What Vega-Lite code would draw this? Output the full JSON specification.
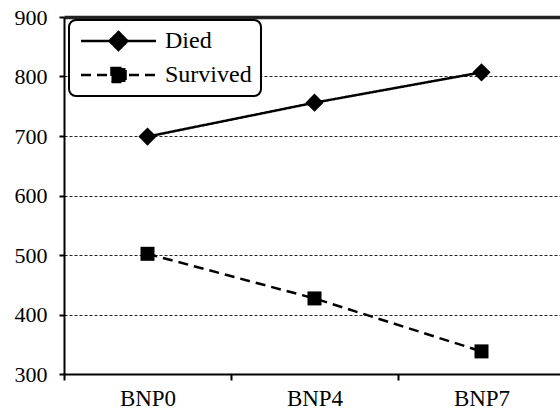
{
  "$schema": "https://vega.github.io/schema/vega-lite/v6.json",
  "width": 496,
  "height": 357,
  "autosize": {"type": "none"},
  "padding": {"left": 64, "top": 17, "right": 0, "bottom": 37},
  "background": "white",
  "config": {"view": {"stroke": null}, "font": "Liberation Serif"},
  "data": {
    "values": [
      {"group": "BNP0", "outcome": "Died", "value": 699},
      {"group": "BNP4", "outcome": "Died", "value": 756},
      {"group": "BNP7", "outcome": "Died", "value": 807},
      {"group": "BNP0", "outcome": "Survived", "value": 502},
      {"group": "BNP4", "outcome": "Survived", "value": 427},
      {"group": "BNP7", "outcome": "Survived", "value": 338}
    ]
  },
  "encoding": {
    "x": {
      "field": "group",
      "type": "nominal",
      "sort": ["BNP0", "BNP4", "BNP7"],
      "scale": {"type": "band", "paddingInner": 0, "paddingOuter": 0, "range": [0, 501]},
      "axis": {
        "title": null,
        "labelAngle": 0,
        "tickBand": "extent",
        "domainColor": "black",
        "domainWidth": 2,
        "tickColor": "black",
        "tickWidth": 2,
        "tickSize": 6,
        "labelFont": "Liberation Serif",
        "labelFontSize": 23,
        "labelColor": "black",
        "labelPadding": 7,
        "grid": false
      }
    },
    "y": {
      "field": "value",
      "type": "quantitative",
      "scale": {"domain": [300, 900], "nice": false, "zero": false},
      "axis": {
        "title": null,
        "values": [300, 400, 500, 600, 700, 800, 900],
        "domainColor": "black",
        "domainWidth": 2,
        "tickColor": "black",
        "tickWidth": 2,
        "tickSize": 5,
        "labelFont": "Liberation Serif",
        "labelFontSize": 22,
        "labelColor": "black",
        "labelPadding": 12,
        "grid": true,
        "gridColor": "#222222",
        "gridOpacity": 1,
        "gridDash": {"condition": {"test": "datum.value === 900", "value": []}, "value": [3, 2]},
        "gridWidth": {"condition": {"test": "datum.value === 900", "value": 3.5}, "value": 1}
      }
    }
  },
  "layer": [
    {
      "mark": {"type": "line", "strokeWidth": 2.5, "color": "black"},
      "encoding": {
        "strokeDash": {
          "field": "outcome",
          "type": "nominal",
          "scale": {"domain": ["Died", "Survived"], "range": [[1, 0], [10, 6]]},
          "legend": {
            "orient": "none",
            "legendX": 5,
            "legendY": 3,
            "title": null,
            "labelFontSize": 24,
            "labelColor": "black",
            "labelFont": "Liberation Serif",
            "labelOffset": 63,
            "symbolSize": 400,
            "symbolStrokeColor": "black",
            "symbolFillColor": "black",
            "symbolStrokeWidth": 2.5,
            "strokeColor": "black",
            "fillColor": "white",
            "cornerRadius": 7,
            "padding": 9,
            "rowPadding": 8,
            "encode": {
              "legend": {"update": {"strokeWidth": {"value": 2}}},
              "symbols": {
                "update": {
                  "shape": {"signal": "datum.value === 'Died' ? 'M-0.9,0H6.6M2.85,-0.9L3.75,0L2.85,0.9L1.95,0Z' : 'M-0.9,0H6.6M2.15,-0.7H3.55V0.7H2.15Z'"},
                  "stroke": {"value": "black"},
                  "fill": {"value": "black"},
                  "strokeWidth": {"value": 2.5},
                  "opacity": {"value": 1}
                }
              }
            }
          }
        }
      }
    },
    {
      "transform": [{"filter": "datum.outcome === 'Died'"}],
      "mark": {"type": "point", "filled": true, "opacity": 1, "color": "black", "shape": "diamond", "size": 330}
    },
    {
      "transform": [{"filter": "datum.outcome === 'Survived'"}],
      "mark": {"type": "point", "filled": true, "opacity": 1, "color": "black", "shape": "square", "size": 196}
    }
  ]
}
